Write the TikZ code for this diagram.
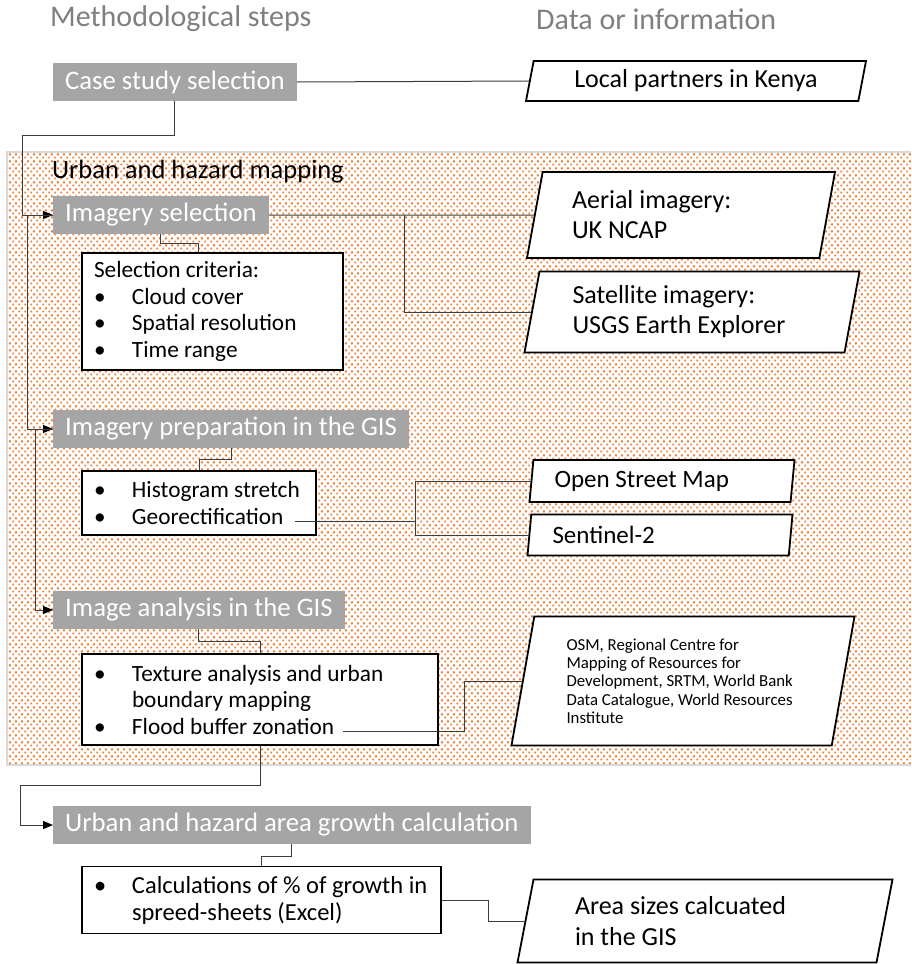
\documentclass[tikz,border=0pt]{standalone}
\usepackage{fontspec}
\setmainfont{Carlito}
\usetikzlibrary{shapes.geometric,arrows.meta,patterns.meta}

\definecolor{headgray}{RGB}{127,127,127}
\definecolor{stepgray}{RGB}{165,165,165}
\definecolor{dotorange}{RGB}{237,125,49}
\definecolor{linkgray}{RGB}{60,60,60}
\newcommand{\bul}{\makebox[38pt][l]{\textbullet}}

% dotted backdrop of the mapping stage
\tikzdeclarepattern{
  name=orangedots,
  type=colored,
  bounding box={(0pt,0pt) and (6pt,7pt)},
  tile size={(6pt,7pt)},
  code={
    \fill[dotorange] (0.4pt,0.6pt) rectangle (2.6pt,2.8pt);
    \fill[dotorange] (3.4pt,4.1pt) rectangle (5.6pt,6.3pt);
  }
}

\begin{document}
\begin{tikzpicture}[x=1pt,y=-1pt,
  head/.style={anchor=west, text=headgray, inner sep=0pt, font=\fontsize{30}{36}\selectfont},
  stepbox/.style={anchor=west, fill=stepgray, text=white, inner xsep=12pt, inner ysep=0pt,
    minimum height=38pt, font=\fontsize{26.7}{30}\selectfont},
  listbox/.style={draw, fill=white, line width=1.8pt, inner xsep=12pt, inner ysep=0pt,
    align=flush left, font=\fontsize{23.3}{26.5}\selectfont},
  data/.style={trapezium, trapezium stretches body, draw, fill=white, line width=1.8pt,
    inner sep=0pt, align=flush left, font=\fontsize{26}{30}\selectfont},
  link/.style={draw=linkgray, line width=1pt},
  flow/.style={link, -{Triangle[length=10pt,width=8pt,color=black]}},
]
\useasboundingbox (0,0) rectangle (911,964);

\fill[pattern=orangedots] (7,152) rectangle (911,765);
\draw[gray!30, line width=1.5pt] (911,152) -- (7,152) -- (7,765) -- (911,765);

% column heads
\node[head] (hsteps) at (50,19) {Methodological steps};
\node[head] (hdata) at (536,19) {Data or information};
\node[anchor=west, inner sep=0pt, font=\fontsize{26.5}{30}\selectfont] (mapping) at (52,172) {Urban and hazard mapping};

% methodological steps
\node[stepbox] (case) at (53,82) {Case study selection};
\node[stepbox] (imgsel) at (53,215) {Imagery selection};
\node[stepbox] (imgprep) at (53,429) {Imagery preparation in the GIS};
\node[stepbox] (imgana) at (53,610) {Image analysis in the GIS};
\node[stepbox] (growth) at (53,825) {Urban and hazard area growth calculation};

% details
\node[listbox, text width=237pt, minimum height=117pt] (selbox) at (212.5,311.5)
  {Selection criteria:\\ \bul Cloud cover\\ \bul Spatial resolution\\ \bul Time range};
\node[listbox, text width=210pt, minimum height=64pt] (histbox) at (199,503)
  {\bul Histogram stretch\\ \bul Georectification};
\node[listbox, text width=332pt, minimum height=91pt] (texbox) at (260,699.5)
  {\bul Texture analysis and urban\\ \hspace*{38pt}boundary mapping\\ \bul Flood buffer zonation};
\node[listbox, text width=335pt, minimum height=67pt, font=\fontsize{24.5}{27}\selectfont] (calcbox) at (261.5,900)
  {\bul Calculations of \% of growth in\\ \hspace*{38pt}spreed-sheets (Excel)};

% data sources
\node[data, trapezium left angle=71, trapezium right angle=109, minimum width=340pt,
  minimum height=40pt, align=center, font=\fontsize{26}{30}\selectfont] (local) at (696,81)
  {Local partners in Kenya};
\node[data, trapezium left angle=72, trapezium right angle=108, minimum width=308pt,
  minimum height=86pt, text width=218pt] (aerial) at (681,215) {Aerial imagery:\\UK NCAP};
\node[data, trapezium left angle=74, trapezium right angle=106, minimum width=335pt,
  minimum height=81pt, text width=239pt] (satellite) at (692,312) {Satellite imagery:\\USGS Earth Explorer};
\node[data, trapezium left angle=79, trapezium right angle=101, minimum width=265pt,
  minimum height=42pt, text width=215pt, font=\fontsize{25}{30}\selectfont] (osmap) at (662,481) {Open Street Map};
\node[data, trapezium left angle=78, trapezium right angle=102, minimum width=265pt,
  minimum height=41pt, text width=215pt, font=\fontsize{25}{30}\selectfont] (sentinel) at (660,535) {Sentinel-2};
\node[data, trapezium left angle=75, trapezium right angle=105, minimum width=343pt,
  minimum height=129pt, text width=233pt, font=\fontsize{16.8}{18.3}\selectfont] (osmbig) at (683,681)
  {OSM, Regional Centre for\\Mapping of Resources for\\Development, SRTM, World Bank\\Data Catalogue, World Resources\\Institute};
\node[data, trapezium left angle=72, trapezium right angle=108, minimum width=375pt,
  minimum height=83pt, text width=260pt, font=\fontsize{26}{31}\selectfont] (area) at (705,921)
  {Area sizes calcuated\\in the GIS};

% free ends of the connectors
\coordinate (split1) at (404,215);
\coordinate (georef) at (295,521);
\coordinate (split2) at (415,521);
\coordinate (floodref) at (343,731);
\coordinate (split3) at (464,731);

% step flow
\draw[flow] (case.south) |- (22,135) |- (imgsel.west);
\draw[flow] (imgsel.west) -- ++(-26,0) |- (imgprep.west);
\draw[flow] (imgprep.west) -- ++(-18,0) |- (imgana.west);
\draw[flow] (texbox.south) |- (20,785) |- (growth.west);

% steps to details
\draw[link] (imgsel.south) -- ++(0,9.5) -| ([xshift=-14pt]selbox.north);
\draw[link] (imgprep.south) -- ++(0,11.5) -| (histbox.north);
\draw[link] (imgana.south) -- ++(0,12.5) -| (texbox.north);
\draw[link] (growth.south) -- ++(0,12) -| (calcbox.north);

% details to data
\draw[link] (case.east) -- (local.west);
\draw[link] (imgsel.east) -- (aerial.west);
\draw[link] (split1) |- (satellite.west);
\draw[link] (georef) -- (split2);
\draw[link] (split2) |- (osmap.west);
\draw[link] (split2) |- (sentinel.west);
\draw[link] (floodref) -- (split3) |- (osmbig.west);
\draw[link] (calcbox.east) -- ++(47,0) |- (area.west);
\end{tikzpicture}
\end{document}
